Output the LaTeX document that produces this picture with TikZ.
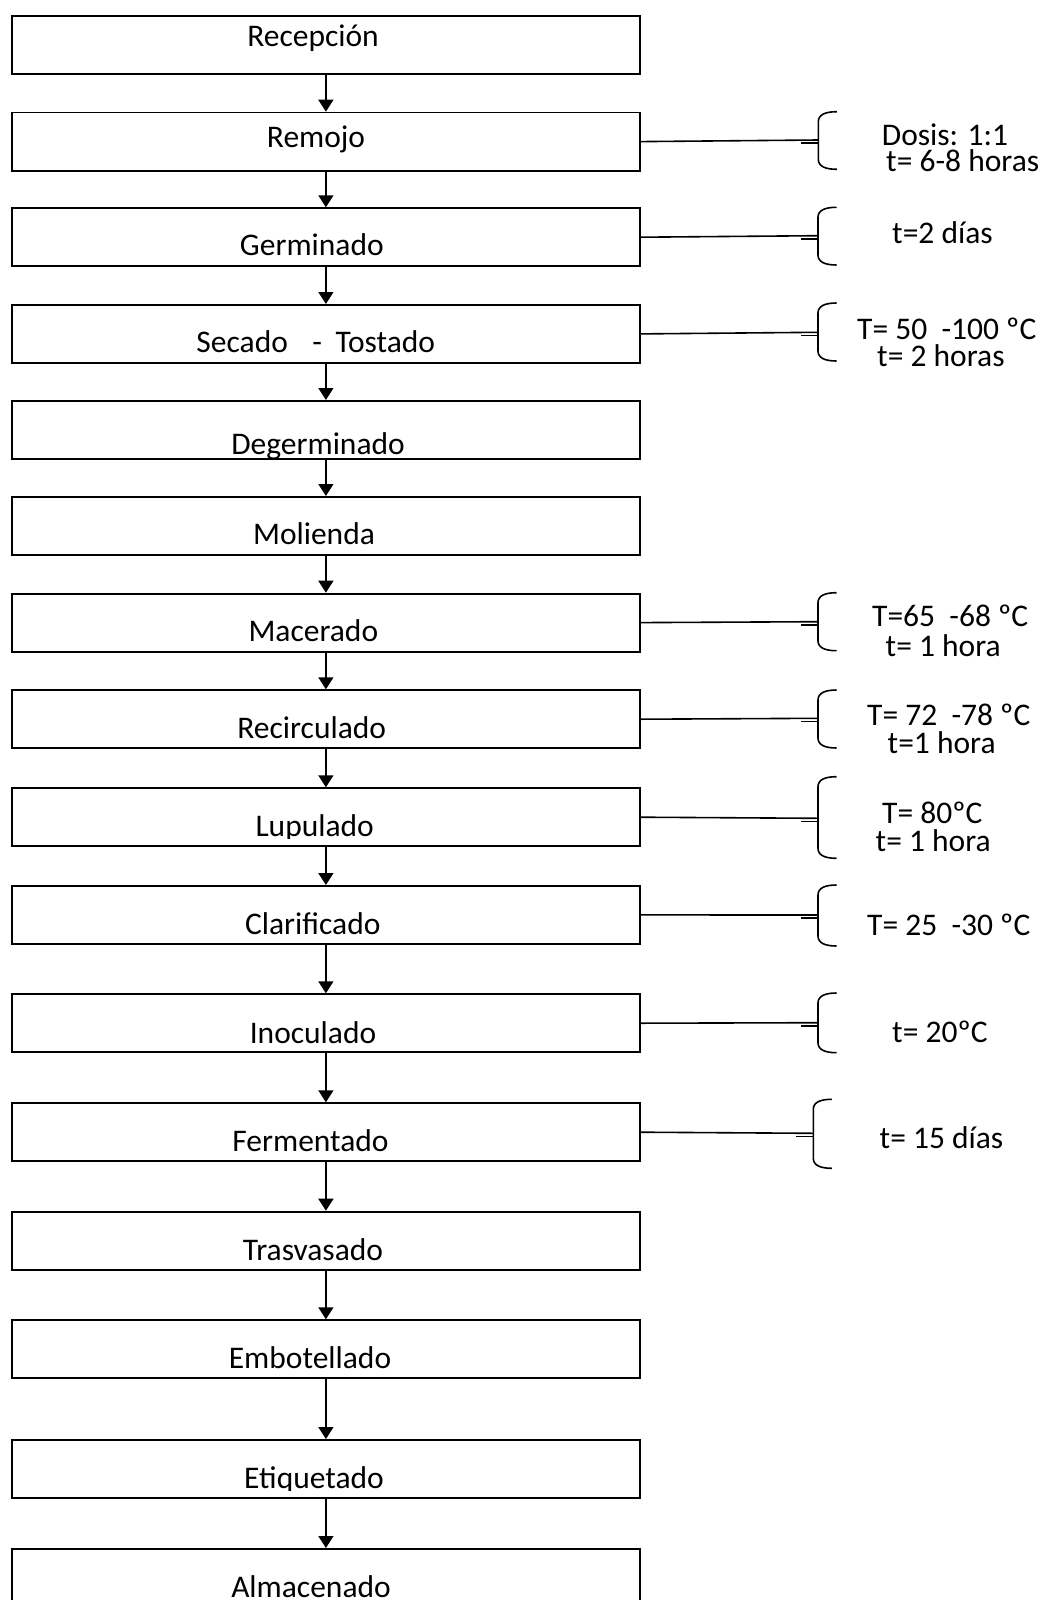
\documentclass[tikz,border=0pt]{standalone}
\usepackage{fontspec}
\setmainfont{Carlito}
\usetikzlibrary{arrows.meta}

% left curly brace: x of the spine, top y, bottom y (y grows downwards)
\newcommand\drawbrace[3]{%
  \draw[brace] (#1+18.5,#2) .. controls (#1+7,#2) and (#1,#2+3) .. (#1,#2+10)
    -- (#1,#3-10) .. controls (#1,#3-3) and (#1+7,#3) .. (#1+18.5,#3);}

\begin{document}
\begin{tikzpicture}[x=1pt,y=-1pt,
  stepbox/.style={draw, line width=1.8pt, minimum width=628pt, minimum height=58pt,
    inner sep=0pt, anchor=north west},
  boxlabel/.style={anchor=base, inner sep=0pt, font=\fontsize{31.5}{32}\selectfont},
  note/.style={anchor=base west, inner sep=0pt, font=\fontsize{31.5}{32}\selectfont},
  flow/.style={line width=1.5pt, -{Triangle[width=15pt,length=12pt]}},
  link/.style={line width=1.6pt},
  brace/.style={line width=1.6pt}]

\useasboundingbox (0,0) rectangle (1048,1600);
\clip (0,0) rectangle (1048,1600);

% process steps
\node[stepbox] (b1)  at (11,15)     {};
\node[stepbox] (b2)  at (11,111.7)  {};
\node[stepbox] (b3)  at (11,207.3)  {};
\node[stepbox] (b4)  at (11,304)    {};
\node[stepbox] (b5)  at (11,400)    {};
\node[stepbox] (b6)  at (11,496)    {};
\node[stepbox] (b7)  at (11,592.7)  {};
\node[stepbox] (b8)  at (11,689.3)  {};
\node[stepbox] (b9)  at (11,787.3)  {};
\node[stepbox] (b10) at (11,885)    {};
\node[stepbox] (b11) at (11,993.3)  {};
\node[stepbox] (b12) at (11,1102.3) {};
\node[stepbox] (b13) at (11,1210.7) {};
\node[stepbox] (b14) at (11,1319.3) {};
\node[stepbox] (b15) at (11,1439)   {};
\node[stepbox] (b16) at (11,1548)   {};

% step names
\node[boxlabel] (t1)  at (313,46.7)    {Recepción};
\node[boxlabel] (t2)  at (316,147)     {Remojo};
\node[boxlabel] (t3)  at (311.8,255.7) {Germinado};
\node[boxlabel] (t4)  at (315.8,352.7) {Secado\hspace{24.5pt}-\hspace{13.5pt}Tostado};
\node[boxlabel] (t5)  at (318,454)     {Degerminado};
\node[boxlabel] (t6)  at (314,544.3)   {Molienda};
\node[boxlabel] (t7)  at (313.3,641.7) {Macerado};
\node[boxlabel] (t8)  at (311.7,738.3) {Recirculado};
\begin{scope}
  \clip (11,787.3) rectangle (639,838.5);
  \node[boxlabel] (t9) at (314.7,836.7) {Lupulado};
\end{scope}
\node[boxlabel] (t10) at (312.8,934.3)  {Clarificado};
\node[boxlabel] (t11) at (313,1043.5)   {Inoculado};
\node[boxlabel] (t12) at (310.5,1151.7) {Fermentado};
\node[boxlabel] (t13) at (313,1260.7)   {Trasvasado};
\node[boxlabel] (t14) at (310,1368.3)   {Embotellado};
\begin{scope}
  \clip (11,1439) rectangle (639,1490);
  \node[boxlabel] (t15) at (314,1488.5) {Etiquetado};
\end{scope}
\node[boxlabel] (t16) at (311,1597) {Almacenado};

% flow arrows
\foreach \a/\b in {b1/b2,b2/b3,b3/b4,b4/b5,b5/b6,b6/b7,b7/b8,b8/b9,b9/b10,
                   b10/b11,b11/b12,b12/b13,b13/b14,b14/b15,b15/b16}
  \draw[flow] (\a.south) -- (\b.north);

% brace anchor points
\coordinate (k2)  at (818.3,140);
\coordinate (k3)  at (818,235.7);
\coordinate (k4)  at (818,332.3);
\coordinate (k7)  at (818,621.7);
\coordinate (k8)  at (818,718.3);
\coordinate (k9)  at (818,818.3);
\coordinate (k10) at (818,915);
\coordinate (k11) at (818,1022.7);
\coordinate (k12) at (813.3,1133.3);

% connectors to the condition braces
\foreach \n in {2,3,4,7,8,9,10,11,12}{
  \draw[link] (b\n.east) -- (k\n);
  \draw[link] (k\n) ++(-17,3.2) -- ++(17,0);
}

% braces
\drawbrace{818.3}{111.7}{169.3}
\drawbrace{818}{207.3}{265}
\drawbrace{818}{303}{361}
\drawbrace{818}{592.7}{650.7}
\drawbrace{818}{690}{748}
\drawbrace{818}{776.7}{858.3}
\drawbrace{818}{885}{946}
\drawbrace{818}{993}{1052.7}
\drawbrace{813.3}{1099.3}{1168.3}

% process conditions
\node[note] (c2a)  at (881.7,145.5) {Dosis: 1:1};
\node[note] (c2b)  at (886,171)     {t= 6-8 horas};
\node[note] (c3)   at (892,243.3)   {t=2 días};
\node[note] (c4a)  at (857,339)     {T= 50\ \ -100 ºC};
\node[note] (c4b)  at (877,366.7)   {t= 2 horas};
\node[note] (c7a)  at (872,626.7)   {T=65\ \ -68 ºC};
\node[note] (c7b)  at (885.5,656.7) {t= 1 hora};
\node[note] (c8a)  at (867,725)     {T= 72\ \ -78 ºC};
\node[note] (c8b)  at (887.5,753)   {t=1 hora};
\node[note] (c9a)  at (882,823.3)   {T= 80ºC};
\node[note] (c9b)  at (875.5,851.7) {t= 1 hora};
\node[note] (c10)  at (867,935)     {T= 25\ \ -30 ºC};
\node[note] (c11)  at (892,1042.7)  {t= 20ºC};
\node[note] (c12)  at (879.5,1148.3){t= 15 días};

\end{tikzpicture}
\end{document}
